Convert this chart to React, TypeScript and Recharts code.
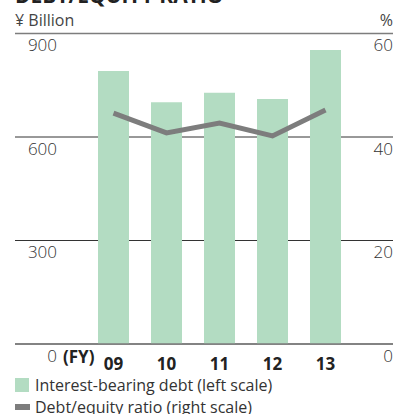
import React from "react";
import {
  ComposedChart,
  Bar,
  Line,
  XAxis,
  YAxis,
  CartesianGrid,
  ReferenceLine,
} from "recharts";

const years = ["09", "10", "11", "12", "13"];
const debt = [791, 701, 728, 710, 852];
const ratio = [44.6, 40.8, 42.7, 40.2, 45.2];
const leftTicks = [0, 300, 600, 900];
const rightTicks = [0, 20, 40, 60];

const data = years.map((y, i) => ({ year: y, debt: debt[i], ratio: ratio[i] }));

const FONT = "'Open Sans', 'DejaVu Sans', sans-serif";
const GREEN = "#b3dcc2";
const GREY = "#7d7d7d";

const LeftTick = ({ y, payload }: any) => (
  <text x={57} y={y + 13} textAnchor="end" dominantBaseline="middle" fontFamily={FONT} fontSize={17} fontWeight={300} fill="#333">
    {payload.value}
  </text>
);

const RightTick = ({ y, payload }: any) => (
  <text x={393} y={y + 13} textAnchor="end" dominantBaseline="middle" fontFamily={FONT} fontSize={17} fontWeight={300} fill="#333">
    {payload.value}
  </text>
);

const XTick = ({ x, y, payload }: any) => (
  <text x={x} y={y + 13} textAnchor="middle" dominantBaseline="middle" fontFamily={FONT} fontSize={17} fontWeight={700} fill="#222">
    {payload.value}
  </text>
);

export default function App() {
  return (
    <div style={{ position: "absolute", left: 0, top: 0, width: 395, height: 414, overflow: "hidden", background: "#fff", fontFamily: FONT }}>
      <div style={{ position: "absolute", left: 15, top: -19, fontSize: 21, fontWeight: 700, color: "#222", whiteSpace: "nowrap" }}>
        DEBT/EQUITY RATIO
      </div>
      <div style={{ position: "absolute", left: 15, top: 9, fontSize: 16, color: "#444" }}>¥ Billion</div>
      <div style={{ position: "absolute", right: 2, top: 9, fontSize: 16, color: "#444" }}>%</div>
      <ComposedChart
        width={395}
        height={414}
        data={data}
        margin={{ top: 33.5, right: 0, bottom: 40, left: 0 }}
      >
        <CartesianGrid yAxisId="left" vertical={false} stroke="#333" strokeWidth={1} />
        <XAxis
          dataKey="year"
          height={30}
          axisLine={false}
          tickLine={false}
          tick={<XTick />}
          padding={{ left: 72, right: 41 }}
          interval={0}
        />
        <YAxis yAxisId="left" width={15} domain={[0, 900]} ticks={leftTicks} interval={0} axisLine={false} tickLine={false} tick={<LeftTick />} />
        <YAxis yAxisId="right" orientation="right" width={2} domain={[0, 60]} ticks={rightTicks} interval={0} axisLine={false} tickLine={false} tick={<RightTick />} />
        <ReferenceLine yAxisId="left" y={900} stroke={GREY} strokeWidth={1.5} />
        <Bar yAxisId="left" dataKey="debt" fill={GREEN} barSize={31} isAnimationActive={false} />
        <ReferenceLine yAxisId="left" y={0} stroke={GREY} strokeWidth={1.5} />
        <Line yAxisId="right" dataKey="ratio" stroke={GREY} strokeWidth={5} dot={false} isAnimationActive={false} />
      </ComposedChart>
      <div style={{ position: "absolute", left: 63, top: 345, fontSize: 17, fontWeight: 700, color: "#222" }}>(FY)</div>
      <div style={{ position: "absolute", left: 15, top: 378, width: 14, height: 14, background: GREEN }} />
      <div style={{ position: "absolute", left: 35, top: 374, fontSize: 16, color: "#333", whiteSpace: "nowrap" }}>
        Interest-bearing debt (left scale)
      </div>
      <div style={{ position: "absolute", left: 15, top: 404, width: 15, height: 6, background: GREY }} />
      <div style={{ position: "absolute", left: 35, top: 396, fontSize: 16, color: "#333", whiteSpace: "nowrap" }}>
        Debt/equity ratio (right scale)
      </div>
    </div>
  );
}
